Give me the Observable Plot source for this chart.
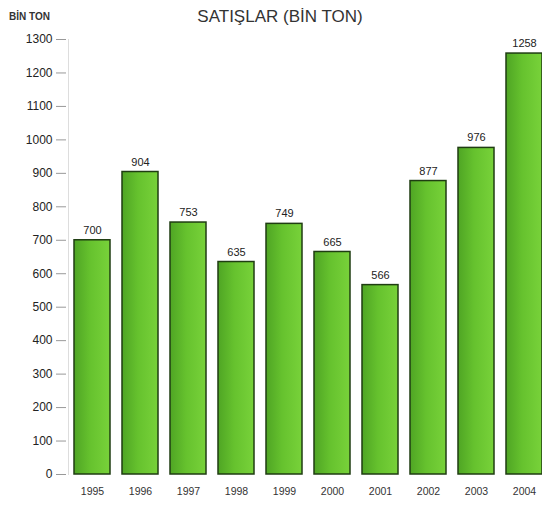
<!DOCTYPE html>
<html>
<head>
<meta charset="utf-8">
<script src="https://cdn.jsdelivr.net/npm/d3@7"></script>
<script src="https://cdn.jsdelivr.net/npm/@observablehq/plot@0.6"></script>
<style>
  html, body { margin: 0; padding: 0; background: #fff; }
  #wrap { position: relative; width: 542px; height: 506px; overflow: hidden; font-family: "Liberation Sans", Arial, sans-serif; }
  #title { position: absolute; left: 0; width: 560px; top: 7px; text-align: center; font-size: 17px; color: #333; }
  #unit { position: absolute; left: 9px; top: 11px; font-size: 10px; font-weight: bold; color: #333; }
</style>
</head>
<body>
<div id="wrap">
  <div id="title">SATIŞLAR (BİN TON)</div>
  <div id="unit">BİN TON</div>
</div>
<script>
const years = ["1995","1996","1997","1998","1999","2000","2001","2002","2003","2004"];
const sales = [700, 904, 753, 635, 749, 665, 566, 877, 976, 1258];
const yTicks = [0,100,200,300,400,500,600,700,800,900,1000,1100,1200,1300];

const data = years.map((y, i) => ({year: y, value: sales[i]}));

const chart = Plot.plot({
  width: 542,
  height: 506,
  marginTop: 39,
  marginBottom: 32,
  marginLeft: 74,
  marginRight: 0,
  style: {fontFamily: "'Liberation Sans', Arial, sans-serif", background: "transparent", color: "#333"},
  x: {domain: years, paddingInner: 0.25, paddingOuter: 0, label: null},
  y: {domain: [0, 1300], label: null},
  marks: [
    Plot.frame({anchor: "left", stroke: "#ddd", dx: -6}),
    Plot.axisY({ticks: yTicks, tickFormat: d => String(d), tickSize: 10, tickPadding: 4, dx: -8, stroke: "#999", fontSize: 12, fill: "#222", label: null}),
    Plot.axisX({tickSize: 0, tickPadding: 13, fontSize: 10.5, fill: "#333", label: null}),
    Plot.barY(data, {x: "year", y: "value", fill: "url(#barGrad)", stroke: "#1f3d12", strokeWidth: 1.5}),
    Plot.text(data, {x: "year", y: "value", text: d => String(d.value), dy: -10, fontSize: 11, fill: "#222"})
  ]
});

const defs = d3.select(chart).insert("defs", ":first-child");
const g = defs.append("linearGradient").attr("id", "barGrad").attr("x1", "0").attr("x2", "1").attr("y1", "0").attr("y2", "0");
g.append("stop").attr("offset", "0%").attr("stop-color", "#4fa524");
g.append("stop").attr("offset", "45%").attr("stop-color", "#66c22e");
g.append("stop").attr("offset", "100%").attr("stop-color", "#78d23a");

chart.style.position = "absolute";
chart.style.left = "0";
chart.style.top = "0";
const wrap = document.getElementById("wrap");
wrap.insertBefore(chart, wrap.firstChild);
</script>
</body>
</html>
